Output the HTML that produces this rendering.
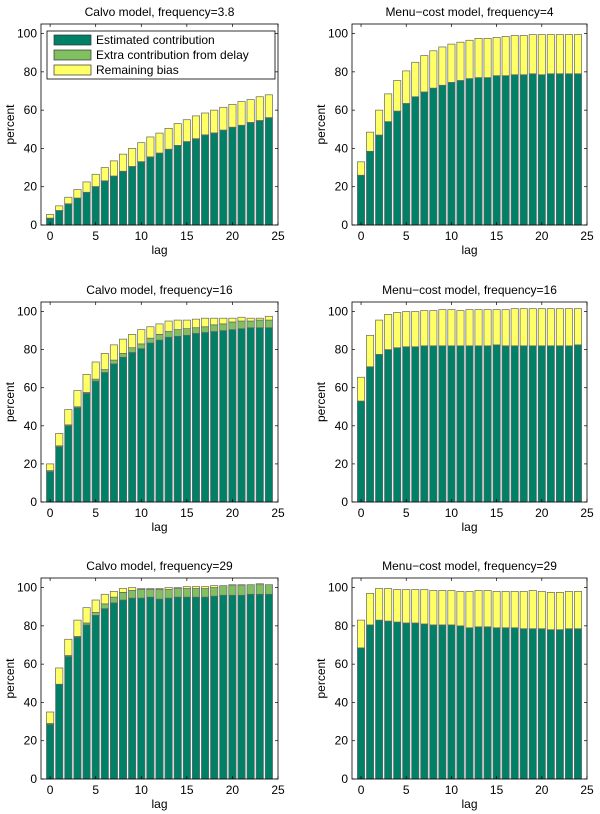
<!DOCTYPE html>
<html><head><meta charset="utf-8">
<style>
html,body{margin:0;padding:0;background:#fff;}
svg{display:block;font-family:"Liberation Sans",Arial,sans-serif;}
</style></head>
<body>
<svg id="fig" width="600" height="814" viewBox="0 0 600 814"></svg>
<script>
const lags = [0,1,2,3,4,5,6,7,8,9,10,11,12,13,14,15,16,17,18,19,20,21,22,23,24];
const xTicks = [0,5,10,15,20,25];
const yTicks = [0,20,40,60,80,100];
const titles = ["Calvo model, frequency=3.8","Menu\u2212cost model, frequency=4","Calvo model, frequency=16","Menu\u2212cost model, frequency=16","Calvo model, frequency=29","Menu\u2212cost model, frequency=29"];
// estimated contribution
const est1 = [3.5,7.5,11,14,17,20,23,25.5,28,30.5,33,35.5,37.5,39.5,41.5,43.5,45,47,48,49.5,51,52,53.5,54.5,56];
const est2 = [26,38.5,47,54,59.5,63.5,67,69.5,71.5,73,74.5,75.5,76.5,77,77,78,78,78.5,78.5,79,78.5,79,79,79,79];
const est3 = [16,29,40,49.5,57,63.5,68,72.5,76,78.5,80.5,83.5,85,86.5,87,87.5,88.5,89,89.5,90,90.5,91,91.5,91.5,91.5];
const est4 = [53,71,77.5,80,81,81.5,81.5,82,82,82,82,82,82,82,82,82.5,82,82,82,82,82,82,82,82,82.5];
const est5 = [28.5,49.5,64,74,80.5,85.5,89,92,93.5,94.5,94.5,95,94,94.5,95,95,95,95,95.5,96,96,96,96.5,96.5,96.5];
const est6 = [68.5,80.5,83,82.5,82,81.5,81.5,81,80.5,80.5,80.5,80,79,79.5,79.5,79,79,79,78.5,78.5,78.5,78,78,78.5,78.5];
// estimated + delay (cumulative)
const del1 = [3.6,7.6,11.1,14.1,17.1,20.1,23.1,25.6,28.1,30.6,33.1,35.6,37.6,39.6,41.6,43.6,45.1,47.1,48.1,49.6,51.1,52.1,53.6,54.6,56.1];
const del2 = est2;
const del3 = [16.5,29.5,40.5,50,57.5,64.5,69.5,74.5,78,81,83,86,88,89.5,90.5,91,91.5,92,93,93.5,94.5,95,95,95.5,95.5];
const del4 = est4;
const del5 = [29,49.5,64.5,74.5,81.5,87,91.5,95,97.5,98.5,99,99,99,99,99.5,99.5,99.5,99.5,100,101,101,101,101.5,101.5,101.5];
const del6 = est6;
// total (cumulative incl. remaining bias)
const tot1 = [5.5,10,14.5,18.5,22.5,26.5,30,33.5,37,40,43,46,48,50.5,53,55,57,58.5,60,61.5,63,64.5,65.5,67,68];
const tot2 = [33,48.5,60,68.5,75.5,80.5,85,88.5,91,93,94.5,95.5,96.5,97.5,97.5,98,98.5,99,99,99.5,99.5,99.5,99.5,99.5,99.5];
const tot3 = [20,36,48.5,58.5,67,73.5,78,82.5,85.5,88,90.5,92,93.5,95,95.5,95.5,96,96.5,96.5,96.5,96.5,97,96.5,96.5,97.5];
const tot4 = [65.5,87.5,95.5,98.5,99.5,100,100,100.5,100.5,101,101,100.5,101,101,101,101,101,101.5,101.5,101.5,101.5,101.5,101.5,101.5,101.5];
const tot5 = [35,58,73,83,89.5,93.5,96.5,98,99.5,100,99.5,99.5,99.5,100,100,100.5,100.5,100.5,101,101,101.5,101.5,101.5,102,101.5];
const tot6 = [83,97,99.5,99.5,99,99,99,99,98.5,98.5,98.5,98,98,98.5,98.5,98,98,98,98,98.5,98,97.5,97.5,98,98];

const ests=[est1,est2,est3,est4,est5,est6], dels=[del1,del2,del3,del4,del5,del6], tots=[tot1,tot2,tot3,tot4,tot5,tot6];
const C_EST="#008066", C_DEL="#80c060", C_BIAS="#ffff66";
const NS="http://www.w3.org/2000/svg";
const svg=document.getElementById('fig');
function mk(tag,attrs,parent){const e=document.createElementNS(NS,tag);for(const k in attrs)e.setAttribute(k,attrs[k]);(parent||svg).appendChild(e);return e;}

const panels=[
 {x0:41,x1:278,y0:24,y1:225},{x0:352,x1:587,y0:24,y1:225},
 {x0:41,x1:278,y0:302,y1:502},{x0:352,x1:587,y0:302,y1:502},
 {x0:41,x1:278,y0:578,y1:779},{x0:352,x1:587,y0:578,y1:779}];

panels.forEach((p,i)=>{
  const g=mk('g',{});
  
  
  const xs=v=>p.x0+(v+1)/26*(p.x1-p.x0);
  const ys=v=>p.y1-v/105*(p.y1-p.y0);
  mk('rect',{x:p.x0,y:p.y0,width:p.x1-p.x0,height:p.y1-p.y0,fill:'#fff'},g);
  const bw=0.8*(p.x1-p.x0)/26;
  lags.forEach((l,j)=>{
    const segs=[[0,ests[i][j],C_EST],[ests[i][j],dels[i][j],C_DEL],[dels[i][j],tots[i][j],C_BIAS]];
    segs.forEach((s,k)=>{
      if(s[1]-s[0]<=0.05) return;
      const r=mk('rect',{x:xs(l)-bw/2,y:ys(s[1]),width:bw,height:ys(s[0])-ys(s[1]),fill:s[2],stroke:'#666','stroke-width':0.7},g);
      
      
    });
  });
  mk('rect',{x:p.x0,y:p.y0,width:p.x1-p.x0,height:p.y1-p.y0,fill:'none',stroke:'#000','stroke-width':0.8},g);
  xTicks.forEach(t=>{
    const x=xs(t);
    mk('line',{x1:x,x2:x,y1:p.y1,y2:p.y1-3,stroke:'#000','stroke-width':0.7},g);
    mk('line',{x1:x,x2:x,y1:p.y0,y2:p.y0+3,stroke:'#000','stroke-width':0.7},g);
    const tx=mk('text',{x:x,y:p.y1+15,'text-anchor':'middle','font-size':12},g);
    tx.textContent=t;
    
    
  });
  yTicks.forEach(t=>{
    const y=ys(t);
    mk('line',{x1:p.x0,x2:p.x0+3,y1:y,y2:y,stroke:'#000','stroke-width':0.7},g);
    mk('line',{x1:p.x1,x2:p.x1-3,y1:y,y2:y,stroke:'#000','stroke-width':0.7},g);
    const tx=mk('text',{x:p.x0-4,y:y+4,'text-anchor':'end','font-size':12},g);
    tx.textContent=t;
    
    
  });
  const cx=(p.x0+p.x1)/2;
  const ti=mk('text',{x:cx,y:p.y0-8,'text-anchor':'middle','font-size':12},g);
  ti.textContent=titles[i];
  
  
  const xl=mk('text',{x:cx,y:p.y1+29,'text-anchor':'middle','font-size':12},g);
  xl.textContent='lag';
  
  
  const yx=p.x0-27, yy=(p.y0+p.y1)/2;
  const yl=mk('text',{x:yx,y:yy,'text-anchor':'middle','font-size':12,transform:`rotate(-90 ${yx} ${yy})`},g);
  yl.textContent='percent';
  
  
});

// legend
const lg=mk('g',{});


mk('rect',{x:47,y:31,width:228,height:48,fill:'#fff',stroke:'#000','stroke-width':0.8},lg);
const legLabels=["Estimated contribution","Extra contribution from delay","Remaining bias"];
const legColors=[C_EST,C_DEL,C_BIAS];
legLabels.forEach((s,k)=>{
  const cy=40+k*15;
  const e=mk('g',{},lg);
  
  
  mk('rect',{x:54,y:cy-5,width:37,height:10,fill:legColors[k],stroke:'#333','stroke-width':0.7},e);
  const t=mk('text',{x:96,y:cy+4,'font-size':12},e);
  t.textContent=s;
});
</script>
</body></html>
